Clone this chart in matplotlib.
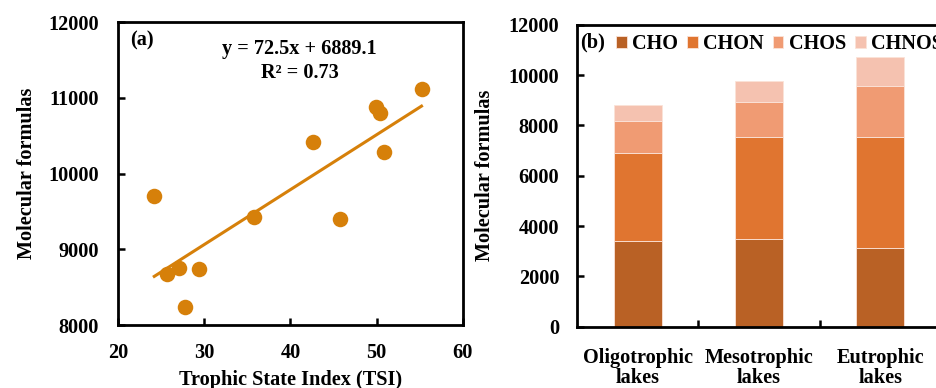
import numpy as np
import matplotlib as mpl
mpl.use('Agg')
from matplotlib import pyplot as plt

plt.rcParams['font.family'] = ['Liberation Serif', 'DejaVu Serif']
plt.rcParams['font.weight'] = 'bold'
plt.rcParams['axes.labelweight'] = 'bold'
plt.rcParams['font.size'] = 14.6

# (a) 散点数据：营养状态指数 vs 分子式数量
tsi = [24.2, 25.7, 27.1, 29.4, 27.8, 35.8, 42.6, 45.7, 49.9, 50.4, 50.9, 55.2]
formulas = [9705, 8675, 8750, 8745, 8240, 9425, 10415, 9395, 10885, 10800, 10280, 11115]
slope = 72.5
intercept = 6889.1

# (b) 堆叠柱状图数据
lakes = ['Oligotrophic\nlakes', 'Mesotrophic\nlakes', 'Eutrophic\nlakes']
groups = ['CHO', 'CHON', 'CHOS', 'CHNOS']
cho = [3400, 3480, 3120]
chon = [3520, 4060, 4440]
chos = [1250, 1400, 1990]
chnos = [630, 820, 1180]
colors = ['#B96125', '#E07530', '#F09B73', '#F5C2B0']

SCATTER_COLOR = '#D6800A'

fig = plt.figure(figsize=(9.37, 3.88), dpi=100)

# ---------- (a) ----------
ax1 = fig.add_axes([0.126, 0.162, 0.368, 0.781])
ax1.scatter(tsi, formulas, s=125, color=SCATTER_COLOR, zorder=3, linewidths=0)
xfit = np.array([min(tsi), max(tsi)])
ax1.plot(xfit, slope * xfit + intercept, color=SCATTER_COLOR, lw=2.2, zorder=2)
ax1.set_xlim(20, 60)
ax1.set_ylim(8000, 12000)
ax1.set_xticks([20, 30, 40, 50, 60])
ax1.set_yticks([8000, 9000, 10000, 11000, 12000])
ax1.tick_params(direction='in', length=5, width=1.8, pad=13)
ax1.tick_params(axis='y', pad=14)
for sp in ax1.spines.values():
    sp.set_linewidth(2)
ax1.set_xlabel('Trophic State Index (TSI)', labelpad=5)
ax1.set_ylabel('Molecular formulas', labelpad=8)
ax1.text(0.035, 0.94, '(a)', transform=ax1.transAxes, ha='left', va='center')
ax1.text(0.527, 0.911, 'y = 72.5x + 6889.1', transform=ax1.transAxes,
         ha='center', va='center')
ax1.text(0.527, 0.833, 'R² = 0.73', transform=ax1.transAxes,
         ha='center', va='center')

# ---------- (b) ----------
ax2 = fig.add_axes([0.616, 0.158, 0.388, 0.778])
x = np.arange(len(lakes))
bottom = np.zeros(len(lakes))
for name, vals, c in zip(groups, [cho, chon, chos, chnos], colors):
    ax2.bar(x, vals, width=0.4, bottom=bottom, color=c, label=name,
            edgecolor='#FBE3D8', linewidth=0.6)
    bottom += np.array(vals)
ax2.set_xlim(-0.5, 2.5)
ax2.set_ylim(0, 12000)
ax2.set_yticks(range(0, 12001, 2000))
ax2.set_xticks(x)
ax2.set_xticklabels(lakes, linespacing=1.0)
ax2.set_xticks([0.5, 1.5], minor=True)
ax2.tick_params(axis='x', which='major', length=0, pad=15)
ax2.tick_params(axis='x', which='minor', direction='in', length=5, width=1.8)
ax2.tick_params(axis='y', direction='in', length=5, width=1.8, pad=13)
for sp in ax2.spines.values():
    sp.set_linewidth(2)
ax2.set_ylabel('Molecular formulas', labelpad=10)
ax2.text(0.008, 0.94, '(b)', transform=ax2.transAxes, ha='left', va='center')
ax2.legend(loc='center left', bbox_to_anchor=(0.107, 0.935), ncol=4, frameon=False,
           handlelength=0.53, handleheight=0.55, handletextpad=0.25,
           columnspacing=0.45, borderaxespad=0, borderpad=0)

fig.savefig('out.png', dpi=100)
